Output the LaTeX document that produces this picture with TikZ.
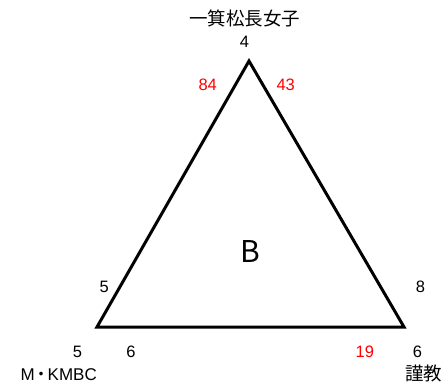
\documentclass[tikz,border=0pt]{standalone}
\usepackage{fontspec}
\setmainfont{Liberation Sans}
\newfontfamily\cjk{Noto Sans CJK JP}
\begin{document}
\begin{tikzpicture}[x=1pt,y=-1pt,
  lbl/.style={inner sep=0pt,font=\fontsize{16.5}{16.5}\selectfont},
  redlbl/.style={lbl,text=red},
  cjklbl/.style={inner sep=0pt,font=\cjk\fontsize{18.5}{18.5}\selectfont},
  tri/.style={draw=black,line width=3pt,miter limit=10}]
\useasboundingbox (0,0) rectangle (447,389);
\coordinate (top) at (249,61);
\coordinate (bl) at (97,327);
\coordinate (br) at (404,327);
\draw[tri] (top) -- (bl) -- (br) -- cycle;
\node[cjklbl] (title) at (244.5,18) {一箕松長女子};
\node[lbl] (n4) at (244.5,41.5) {4};
\node[redlbl] (n84) at (207.7,85) {84};
\node[redlbl] (n43) at (285.7,85) {43};
\node[inner sep=0pt,font=\cjk\fontsize{30}{30}\selectfont] (B) at (250,251) {B};
\node[lbl] (n5a) at (104.2,286.5) {5};
\node[lbl] (n8) at (420.5,286.7) {8};
\node[lbl] (n5b) at (77.5,352) {5};
\node[lbl] (n6a) at (131,352) {6};
\node[redlbl] (n19) at (364.8,351.5) {19};
\node[lbl] (n6b) at (417.5,352) {6};
\node[inner sep=0pt,font=\fontsize{17}{17}\selectfont] (mk) at (58.7,374.7) {M{\cjk\kern-2pt・\kern-2pt}KMBC};
\node[cjklbl] (kin) at (423.8,373.8) {謹教};
\end{tikzpicture}
\end{document}
